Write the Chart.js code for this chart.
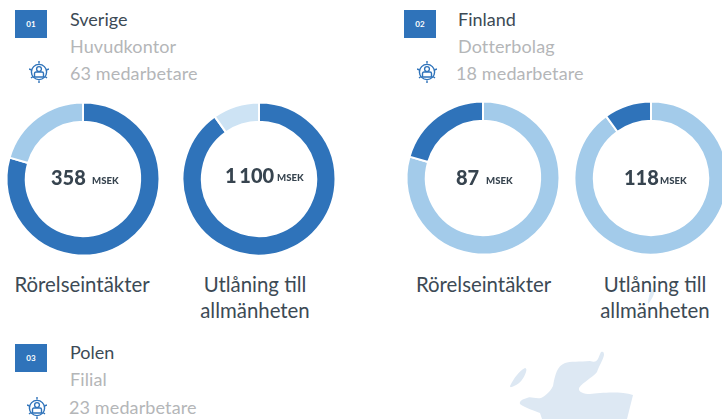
<!DOCTYPE html>
<html>
<head>
<meta charset="utf-8">
<script src="https://cdn.jsdelivr.net/npm/chart.js@4"></script>
<style>
html, body { margin: 0; padding: 0; background: #fff; }
body { width: 722px; height: 419px; overflow: hidden; position: relative; font-family: Lato, sans-serif; }
.t { position: absolute; white-space: nowrap; line-height: 1; }
.name { font-size: 18px; color: #3c4a55; }
.sub { font-size: 18px; color: #b4b6b8; letter-spacing: 0.12px; }
.box { position: absolute; width: 32px; height: 28px; background: #2f73ba; color: #fff; font-size: 8px; font-weight: 700; text-align: center; line-height: 29px; }
.label { position: absolute; width: 170px; text-align: center; font-size: 20.4px; line-height: 26px; color: #3c4a55; }
.num { font-size: 20px; font-weight: 900; color: #37444f; word-spacing: -2px; }
.unit { font-size: 9.6px; font-weight: 900; color: #37444f; }
canvas { position: absolute; }
svg { position: absolute; left: 0; top: 0; }
</style>
</head>
<body>
<svg width="722" height="419" viewBox="0 0 722 419">
  <path fill="#dde8f3" d="M601 352 C598 358 598 364 590 361 C580 362 570 361 565 363 C557 366 555 375 553 386 C550 392 545 396 541 398 C535 399 530 396 527 398 C523 399 519 401 520 404 C525 408 535 411 540 413 L542 419 L627 419 L633 395 C620 391 600 393 590 394 C584 394 578 392 579 388 C583 382 592 378 597 372 C599 366 603 360 604 355 C604 352 603 351 601 352 Z"/>
  <path fill="#dde8f3" d="M525 368 C519 371 514 378 510 386 C510 388 512 387 514 386 C520 384 524 378 526 372 C527 369 526 368 525 368 Z"/>
  <path fill="#e0ebf5" d="M652 289 C650 292 648 298 648 304 C650 302 654 296 655 290 Z"/>
</svg>

<div class="box" style="left:15px;top:10px">01</div>
<div class="t name" style="left:70px;top:10px">Sverige</div>
<div class="t sub" style="left:70px;top:37px">Huvudkontor</div>
<div class="t sub" style="left:70px;top:64px">63 medarbetare</div>

<div class="box" style="left:404px;top:10px">02</div>
<div class="t name" style="left:458px;top:10px">Finland</div>
<div class="t sub" style="left:458px;top:37px">Dotterbolag</div>
<div class="t sub" style="left:456px;top:64px">18 medarbetare</div>

<div class="box" style="left:15px;top:344px">03</div>
<div class="t name" style="left:70px;top:343px">Polen</div>
<div class="t sub" style="left:70px;top:370px">Filial</div>
<div class="t sub" style="left:69px;top:398px">23 medarbetare</div>

<div id="icons"></div>

<canvas id="c0" width="160" height="160" style="left:2.5px;top:98.5px"></canvas>
<canvas id="c1" width="160" height="160" style="left:179px;top:98.5px"></canvas>
<canvas id="c2" width="160" height="160" style="left:403px;top:98px"></canvas>
<canvas id="c3" width="160" height="160" style="left:571px;top:98px"></canvas>

<div class="t" style="left:51px;top:167px"><span class="num">358</span></div>
<div class="t unit" style="left:92px;top:176px">MSEK</div>
<div class="t" style="left:225px;top:165px"><span class="num">1 100</span></div>
<div class="t unit" style="left:277px;top:173px">MSEK</div>
<div class="t" style="left:456px;top:167px"><span class="num">87</span></div>
<div class="t unit" style="left:486px;top:176px">MSEK</div>
<div class="t" style="left:624px;top:167px"><span class="num">118</span></div>
<div class="t unit" style="left:660px;top:176px">MSEK</div>

<div class="label" style="left:-3px;top:271px">Rörelseintäkter</div>
<div class="label" style="left:170px;top:271px">Utlåning till<br>allmänheten</div>
<div class="label" style="left:398.5px;top:271px">Rörelseintäkter</div>
<div class="label" style="left:570px;top:271px">Utlåning till<br>allmänheten</div>

<script>
const segments = ["a", "b"]
const sverigeIntakter = [79.5, 20.5]
const sverigeUtlaning = [90.2, 9.8]
const finlandIntakter = [79.5, 20.5]
const finlandUtlaning = [90, 10]

const blue = "#2f73ba"
const light = "#a3cbea"
const paler = "#cde3f4"

function ring(id, values, colors) {
  new Chart(document.getElementById(id), {
    type: "doughnut",
    data: {
      labels: segments,
      datasets: [{ data: values, backgroundColor: colors, borderColor: "#fff", borderWidth: 2 }]
    },
    options: {
      responsive: false,
      animation: false,
      radius: 76.5,
      cutout: 59,
      plugins: { legend: { display: false }, tooltip: { enabled: false } }
    }
  })
}

ring("c0", sverigeIntakter, [blue, light])
ring("c1", sverigeUtlaning, [blue, paler])
ring("c2", finlandIntakter, [light, blue])
ring("c3", finlandUtlaning, [light, blue])

// the small staff icon next to each headcount
const iconSpots = [[38.5, 72], [427, 72], [37, 408]]
document.getElementById("icons").innerHTML = iconSpots.map(function (p) {
  return '<svg width="20" height="22" viewBox="-10 -11 20 22" style="left:' + (p[0] - 10) + 'px;top:' + (p[1] - 11) + 'px" fill="none" stroke="' + blue + '" stroke-width="1.4">' +
    '<circle r="7.6"/><circle cy="-3" r="2.4"/><path d="M-4.5 5 V1.5 Q-4.5 0 -3 0 H3 Q4.5 0 4.5 1.5 V5 Z"/><path d="M0 -11 V-8.5 M0 8.5 V11 M-10 -3 L-7.5 -2 M10 -3 L7.5 -2 M-8 6 L-6 4.5 M8 6 L6 4.5"/></svg>'
}).join("")
</script>
</body>
</html>
